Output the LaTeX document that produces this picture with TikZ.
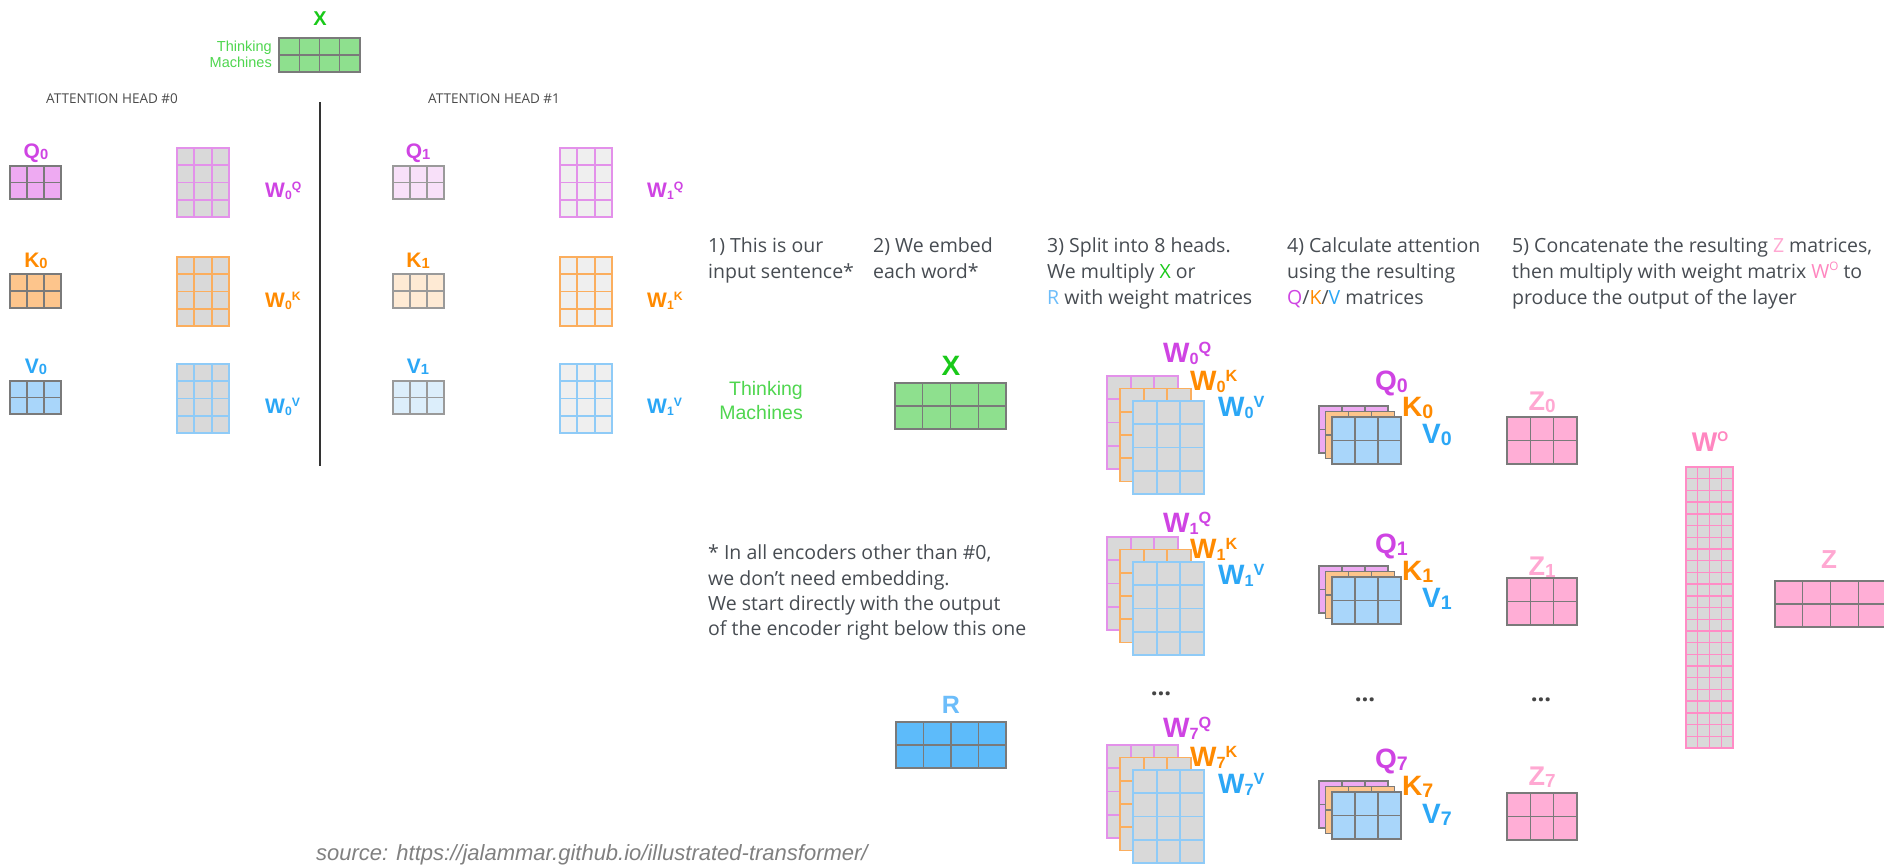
\documentclass[tikz,border=0pt]{standalone}
\usepackage{fontspec}
\usepackage{graphicx}
\newfontfamily\osans{Open Sans}
\newfontfamily\lsans{Liberation Sans}
\definecolor{qfill}{HTML}{EEAAF2}
\definecolor{kfill}{HTML}{FDC58C}
\definecolor{vfill}{HTML}{A9D6FA}
\definecolor{qfillL}{HTML}{F8E0F9}
\definecolor{kfillL}{HTML}{FEEAD4}
\definecolor{vfillL}{HTML}{DCEEFB}
\definecolor{wgray}{HTML}{D9D9D9}
\definecolor{wgrayL}{HTML}{EFEFEF}
\definecolor{qline}{HTML}{E391EA}
\definecolor{kline}{HTML}{FBAE5E}
\definecolor{vline}{HTML}{8FCBF7}
\definecolor{zfill}{HTML}{FFAED6}
\definecolor{woline}{HTML}{FF8CC6}
\definecolor{xfill}{HTML}{8EE08E}
\definecolor{rfill}{HTML}{5DBBFA}
\definecolor{gridgray}{HTML}{7A7A7A}
\definecolor{gridgrayL}{HTML}{9A9A9A}
\definecolor{qcol}{HTML}{CF44E3}
\definecolor{kcol}{HTML}{FF8A00}
\definecolor{vcol}{HTML}{2BA7F6}
\definecolor{xcol}{HTML}{19C919}
\definecolor{tmcol}{HTML}{4FD64F}
\definecolor{rcol}{HTML}{6CBDFA}
\definecolor{zcol}{HTML}{FFA8D2}
\definecolor{wocol}{HTML}{FF86C0}
\definecolor{bodytext}{HTML}{474C52}
\definecolor{headgray}{HTML}{4A4A4A}
\definecolor{srcgray}{HTML}{808080}
\definecolor{dotgray}{HTML}{444444}
\definecolor{sepline}{HTML}{333333}
% label helpers
\newcommand\qsub[2]{#1\raisebox{-0.08em}{\scalebox{0.7}{#2}}}
\newcommand\wlab[2]{W\raisebox{-0.1em}{\scalebox{0.58}{#1}}\raisebox{0.31em}{\scalebox{0.58}{#2}}}
\newcommand\wolab{W\raisebox{0.34em}{\scalebox{0.52}{O}}}
% grid matrix: x, y (top left), cols, rows, width, height, fill colour, line style
\newcommand\gridmat[8]{%
  \pgfmathtruncatemacro\gmc{#3-1}%
  \pgfmathtruncatemacro\gmr{#4-1}%
  \fill[#7] (#1,#2) rectangle ++(#5,#6);
  \foreach \ii in {1,...,\gmc}{\draw[#8] ({#1+\ii*(#5)/(#3)},{#2}) -- ++(0,#6);}
  \foreach \jj in {1,...,\gmr}{\draw[#8] ({#1},{#2+\jj*(#6)/(#4)}) -- ++(#5,0);}
  \draw[#8] (#1,#2) rectangle ++(#5,#6);
}
\begin{document}
\begin{tikzpicture}[x=1pt,y=-1pt,
  lab/.style={inner sep=0pt, anchor=base, font=\lsans\bfseries\fontsize{28}{28}\selectfont},
  labw/.style={inner sep=0pt, anchor=base west, font=\lsans\bfseries\fontsize{28}{28}\selectfont},
  slab/.style={inner sep=0pt, anchor=base, font=\lsans\bfseries\fontsize{21}{21}\selectfont},
  slabw/.style={inner sep=0pt, anchor=base west, font=\lsans\bfseries\fontsize{21}{21}\selectfont},
  body/.style={inner sep=0pt, anchor=base west, text=bodytext, font=\osans\fontsize{19.5}{26}\selectfont},
  headtitle/.style={inner sep=0pt, anchor=base west, text=headgray, font=\osans\fontsize{13.5}{13.5}\selectfont},
  tmtext/.style={inner sep=0pt, anchor=base east, text=tmcol, font=\lsans\fontsize{19.5}{24}\selectfont},
  dots/.style={inner sep=0pt, text=dotgray, font=\osans\bfseries\fontsize{24}{24}\selectfont},
  dgrid/.style={draw=gridgray, line width=1.3pt},
  lgrid/.style={draw=gridgrayL, line width=1.2pt},
  qwline/.style={draw=qline, line width=1.7pt},
  kwline/.style={draw=kline, line width=1.7pt},
  vwline/.style={draw=vline, line width=1.7pt},
  wowline/.style={draw=woline, line width=1.4pt}]
\useasboundingbox (0,0) rectangle (1884,865);
\fill[white] (0,0) rectangle (1884,865);
\clip (0,0) rectangle (1884,865);

% ---------- top input ----------
\gridmat{279}{38}{4}{2}{81}{34}{xfill}{dgrid}
\node[inner sep=0pt, anchor=base, text=xcol, font=\lsans\bfseries\fontsize{20}{20}\selectfont] (xtop) at (320,25) {X};
\node[tmtext, font=\lsans\fontsize{14.5}{14.5}\selectfont] (tmtopa) at (272,51) {Thinking};
\node[tmtext, font=\lsans\fontsize{14.5}{14.5}\selectfont] (tmtopb) at (272,67) {Machines};

% ---------- attention heads ----------
\node[headtitle] (ah0) at (46,103) {ATTENTION HEAD \#0};
\node[headtitle] (ah1) at (428,103) {ATTENTION HEAD \#1};
\draw[sepline, line width=1.5pt] (320,102) -- (320,466);

% head 0
\gridmat{10}{166}{3}{2}{51}{33}{qfill}{dgrid}
\gridmat{10}{274}{3}{2}{51}{34}{kfill}{dgrid}
\gridmat{10}{381}{3}{2}{51}{33}{vfill}{dgrid}
\gridmat{177}{148}{3}{4}{52}{69}{wgray}{qwline}
\gridmat{177}{257}{3}{4}{52}{69}{wgray}{kwline}
\gridmat{177}{364}{3}{4}{52}{69}{wgray}{vwline}
\node[slab, text=qcol] (hq0) at (36,158) {\qsub{Q}{0}};
\node[slab, text=kcol] (hk0) at (36,267) {\qsub{K}{0}};
\node[slab, text=vcol] (hv0) at (36,373) {\qsub{V}{0}};
\node[slabw, text=qcol] (hwq0) at (265,197) {\wlab{0}{Q}};
\node[slabw, text=kcol] (hwk0) at (265,307) {\wlab{0}{K}};
\node[slabw, text=vcol] (hwv0) at (265,413) {\wlab{0}{V}};

% head 1
\gridmat{393}{166}{3}{2}{51}{33}{qfillL}{lgrid}
\gridmat{393}{274}{3}{2}{51}{34}{kfillL}{lgrid}
\gridmat{393}{381}{3}{2}{51}{33}{vfillL}{lgrid}
\gridmat{560}{148}{3}{4}{52}{69}{wgrayL}{qwline}
\gridmat{560}{257}{3}{4}{52}{69}{wgrayL}{kwline}
\gridmat{560}{364}{3}{4}{52}{69}{wgrayL}{vwline}
\node[slab, text=qcol] (hq1) at (418,158) {\qsub{Q}{1}};
\node[slab, text=kcol] (hk1) at (418,267) {\qsub{K}{1}};
\node[slab, text=vcol] (hv1) at (418,373) {\qsub{V}{1}};
\node[slabw, text=qcol] (hwq1) at (647,197) {\wlab{1}{Q}};
\node[slabw, text=kcol] (hwk1) at (647,307) {\wlab{1}{K}};
\node[slabw, text=vcol] (hwv1) at (647,413) {\wlab{1}{V}};

% ---------- step headings ----------
\node[body] (s1a) at (708,252) {1) This is our};
\node[body] (s1b) at (708,278) {input sentence*};
\node[body] (s2a) at (873,252) {2) We embed};
\node[body] (s2b) at (873,278) {each word*};
\node[body] (s3a) at (1047,252) {3) Split into 8 heads.};
\node[body] (s3b) at (1047,278) {We multiply {\color{xcol}X} or};
\node[body] (s3c) at (1047,304) {{\color{rcol}R} with weight matrices};
\node[body] (s4a) at (1287,252) {4) Calculate attention};
\node[body] (s4b) at (1287,278) {using the resulting};
\node[body] (s4c) at (1287,304) {{\color{qcol}Q}/{\color{kcol}K}/{\color{vcol}V} matrices};
\node[body] (s5a) at (1512,252) {5) Concatenate the resulting {\color{zcol}Z} matrices,};
\node[body] (s5b) at (1512,278) {then multiply with weight matrix {\color{wocol}W\raisebox{0.38em}{\scalebox{0.6}{O}}} to};
\node[body] (s5c) at (1512,304) {produce the output of the layer};

% footnote
\node[body] (fn1) at (708,559) {* In all encoders other than \#0,};
\node[body] (fn2) at (708,585) {we don’t need embedding.};
\node[body] (fn3) at (708,610) {We start directly with the output};
\node[body] (fn4) at (708,635) {of the encoder right below this one};

% ---------- input sentence and embedding ----------
\node[tmtext] (tma) at (803,395) {Thinking};
\node[tmtext] (tmb) at (803,419) {Machines};
\gridmat{895}{383}{4}{2}{111}{46}{xfill}{dgrid}
\node[lab, text=xcol] (xmid) at (951,375) {X};
\gridmat{896}{722}{4}{2}{110}{46}{rfill}{dgrid}
\node[lab, text=rcol, font=\lsans\bfseries\fontsize{25}{25}\selectfont] (rmid) at (951,713) {R};

% ---------- weight matrix stacks ----------
\foreach \T/\n/\a/\b/\c in {376/0/362/390/416, 537/1/532/558/584, 745/7/737/766/793} {
  \gridmat{1107}{\T}{3}{4}{71}{93}{wgray}{qwline}
  \gridmat{1120}{\T+12.5}{3}{4}{71}{93}{wgray}{kwline}
  \gridmat{1133}{\T+25}{3}{4}{71}{93}{wgray}{vwline}
  \node[labw, text=qcol] (wq\n) at (1163,\a) {\wlab{\n}{Q}};
  \node[labw, text=kcol] (wk\n) at (1190,\b) {\wlab{\n}{K}};
  \node[labw, text=vcol] (wv\n) at (1218,\c) {\wlab{\n}{V}};
}

% ---------- Q/K/V stacks ----------
\foreach \T/\n/\a/\b/\c in {406/0/390/416/443, 566/1/553/580/607, 781/7/768/795/823} {
  \gridmat{1319}{\T}{3}{2}{69}{47}{qfill}{dgrid}
  \gridmat{1325.5}{\T+5.5}{3}{2}{69}{47}{kfill}{dgrid}
  \gridmat{1332}{\T+11}{3}{2}{69}{47}{vfill}{dgrid}
  \node[labw, text=qcol] (q\n) at (1375,\a) {\qsub{Q}{\n}};
  \node[labw, text=kcol] (k\n) at (1402,\b) {\qsub{K}{\n}};
  \node[labw, text=vcol] (v\n) at (1422,\c) {\qsub{V}{\n}};
}

% ---------- Z matrices ----------
\foreach \T/\n/\a in {417/0/410, 578/1/575, 793/7/785} {
  \gridmat{1507}{\T}{3}{2}{70}{47}{zfill}{dgrid}
  \node[lab, text=zcol, font=\lsans\bfseries\fontsize{27}{27}\selectfont] (z\n) at (1542,\a) {\qsub{Z}{\n}};
}

% dots
\node[dots] (dw) at (1161,694) {...};
\node[dots] (dq) at (1365,700) {...};
\node[dots] (dz) at (1541,700) {...};

% ---------- output projection ----------
\gridmat{1686}{467}{4}{24}{47}{281}{wgray}{wowline}
\node[lab, text=wocol, font=\lsans\bfseries\fontsize{27}{27}\selectfont] (wo) at (1710,451) {\wolab};
\gridmat{1775}{581}{4}{2}{111}{46}{zfill}{dgrid}
\node[lab, text=zcol, font=\lsans\bfseries\fontsize{26}{26}\selectfont] (zout) at (1829,568) {Z};

% source
\node[inner sep=0pt, anchor=base west, text=srcgray, font=\lsans\itshape\fontsize{22}{22}\selectfont] (src) at (316,860) {source: https://jalammar.github.io/illustrated-transformer/};
\end{tikzpicture}
\end{document}
